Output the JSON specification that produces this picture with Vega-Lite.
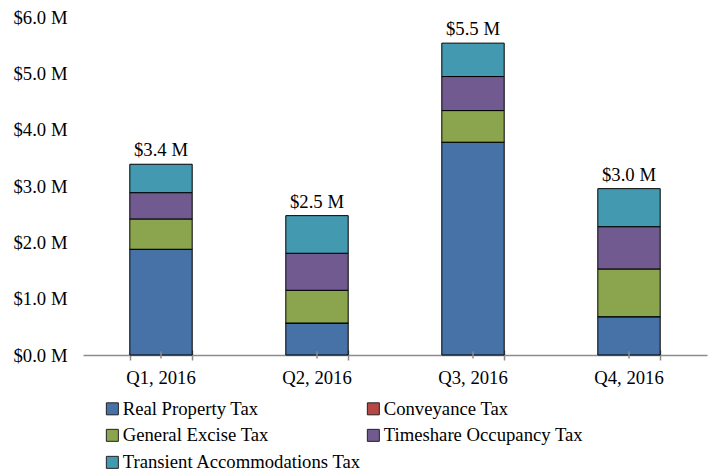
{
  "$schema": "https://vega.github.io/schema/vega-lite/v6.json",
  "width": 624,
  "height": 338,
  "autosize": {"type": "none"},
  "padding": {"left": 83, "top": 17, "right": 9, "bottom": 117},
  "background": "white",
  "config": {"view": {"stroke": null}, "font": "Times New Roman, Liberation Serif, DejaVu Serif, serif"},
  "data": {
    "values": [
      {"quarter": "Q1, 2016", "tax": "Real Property Tax", "value": 1.877},
      {"quarter": "Q1, 2016", "tax": "Conveyance Tax", "value": 0},
      {"quarter": "Q1, 2016", "tax": "General Excise Tax", "value": 0.538},
      {"quarter": "Q1, 2016", "tax": "Timeshare Occupancy Tax", "value": 0.467},
      {"quarter": "Q1, 2016", "tax": "Transient Accommodations Tax", "value": 0.504},
      {"quarter": "Q2, 2016", "tax": "Real Property Tax", "value": 0.568},
      {"quarter": "Q2, 2016", "tax": "Conveyance Tax", "value": 0},
      {"quarter": "Q2, 2016", "tax": "General Excise Tax", "value": 0.581},
      {"quarter": "Q2, 2016", "tax": "Timeshare Occupancy Tax", "value": 0.657},
      {"quarter": "Q2, 2016", "tax": "Transient Accommodations Tax", "value": 0.668},
      {"quarter": "Q3, 2016", "tax": "Real Property Tax", "value": 3.778},
      {"quarter": "Q3, 2016", "tax": "Conveyance Tax", "value": 0},
      {"quarter": "Q3, 2016", "tax": "General Excise Tax", "value": 0.561},
      {"quarter": "Q3, 2016", "tax": "Timeshare Occupancy Tax", "value": 0.604},
      {"quarter": "Q3, 2016", "tax": "Transient Accommodations Tax", "value": 0.593},
      {"quarter": "Q4, 2016", "tax": "Real Property Tax", "value": 0.68},
      {"quarter": "Q4, 2016", "tax": "Conveyance Tax", "value": 0},
      {"quarter": "Q4, 2016", "tax": "General Excise Tax", "value": 0.847},
      {"quarter": "Q4, 2016", "tax": "Timeshare Occupancy Tax", "value": 0.751},
      {"quarter": "Q4, 2016", "tax": "Transient Accommodations Tax", "value": 0.675}
    ]
  },
  "layer": [
    {
      "transform": [
        {"calculate": "indexof(['Real Property Tax','Conveyance Tax','General Excise Tax','Timeshare Occupancy Tax','Transient Accommodations Tax'], datum.tax)", "as": "ord"}
      ],
      "mark": {"type": "bar", "stroke": "black", "strokeWidth": 1},
      "encoding": {
        "x": {
          "field": "quarter", "type": "nominal", "sort": null,
          "scale": {"paddingInner": 0.6, "paddingOuter": 0.3},
          "axis": {
            "title": null, "orient": "bottom", "labelAngle": 0, "ticks": false,
            "domainColor": "#8c8c8c", "domainWidth": 1.5,
            "labelFont": "Times New Roman, Liberation Serif, serif", "labelFontSize": 18.7, "labelColor": "black", "labelPadding": 13
          }
        },
        "y": {
          "field": "value", "type": "quantitative", "stack": "zero",
          "scale": {"domain": [0, 6]},
          "axis": {
            "title": null, "domain": false, "ticks": false, "grid": false,
            "values": [0, 1, 2, 3, 4, 5, 6],
            "labelExpr": "'$' + format(datum.value, '.1f') + ' M'",
            "labelFont": "Times New Roman, Liberation Serif, serif", "labelFontSize": 18.7, "labelColor": "black", "labelPadding": 16
          }
        },
        "color": {
          "field": "tax", "type": "nominal",
          "scale": {
            "domain": ["Real Property Tax", "Conveyance Tax", "General Excise Tax", "Timeshare Occupancy Tax", "Transient Accommodations Tax"],
            "range": ["#4672A8", "#B54745", "#8AA54E", "#705A8F", "#4299B0"]
          },
          "legend": {
            "title": null, "orient": "none", "legendX": 20, "legendY": 382,
            "direction": "horizontal", "columns": 2, "padding": 0,
            "symbolType": "square", "symbolSize": 144, "symbolStrokeColor": "#222", "symbolStrokeWidth": 1,
            "labelFont": "Times New Roman, Liberation Serif, serif", "labelFontSize": 18.7, "labelColor": "black",
            "rowPadding": 7, "columnPadding": 2, "labelOffset": 1, "labelLimit": 400
          }
        },
        "order": {"field": "ord", "type": "quantitative"}
      }
    },
    {
      "transform": [
        {"aggregate": [{"op": "sum", "field": "value", "as": "total"}], "groupby": ["quarter"]},
        {"calculate": "'$' + format(datum.total, '.1f') + ' M'", "as": "label"}
      ],
      "mark": {"type": "text", "baseline": "bottom", "dy": -4, "font": "Times New Roman, Liberation Serif, serif", "fontSize": 18.7, "color": "black"},
      "encoding": {
        "x": {
          "field": "quarter", "type": "nominal", "sort": null,
          "axis": {
            "title": null, "orient": "bottom", "labels": false, "domain": false, "ticks": true, "tickBand": "extent",
            "tickColor": "#8c8c8c", "tickSize": 10, "tickWidth": 1.5, "offset": -5
          }
        },
        "y": {
          "field": "total", "type": "quantitative",
          "axis": {
            "title": null, "domain": false, "ticks": false, "grid": false,
            "values": [0, 1, 2, 3, 4, 5, 6],
            "labelExpr": "'$' + format(datum.value, '.1f') + ' M'",
            "labelFont": "Times New Roman, Liberation Serif, serif", "labelFontSize": 18.7, "labelColor": "black", "labelPadding": 16
          }
        },
        "text": {"field": "label"}
      }
    },
    {
      "transform": [
        {"aggregate": [{"op": "count", "as": "n"}], "groupby": ["quarter"]}
      ],
      "mark": {"type": "tick", "orient": "vertical", "size": 7, "thickness": 1.5, "color": "#8c8c8c", "opacity": 1},
      "encoding": {
        "x": {"field": "quarter", "type": "nominal", "sort": null, "axis": null},
        "y": {"datum": 0, "type": "quantitative"}
      }
    }
  ],
  "resolve": {"axis": {"x": "independent"}}
}
